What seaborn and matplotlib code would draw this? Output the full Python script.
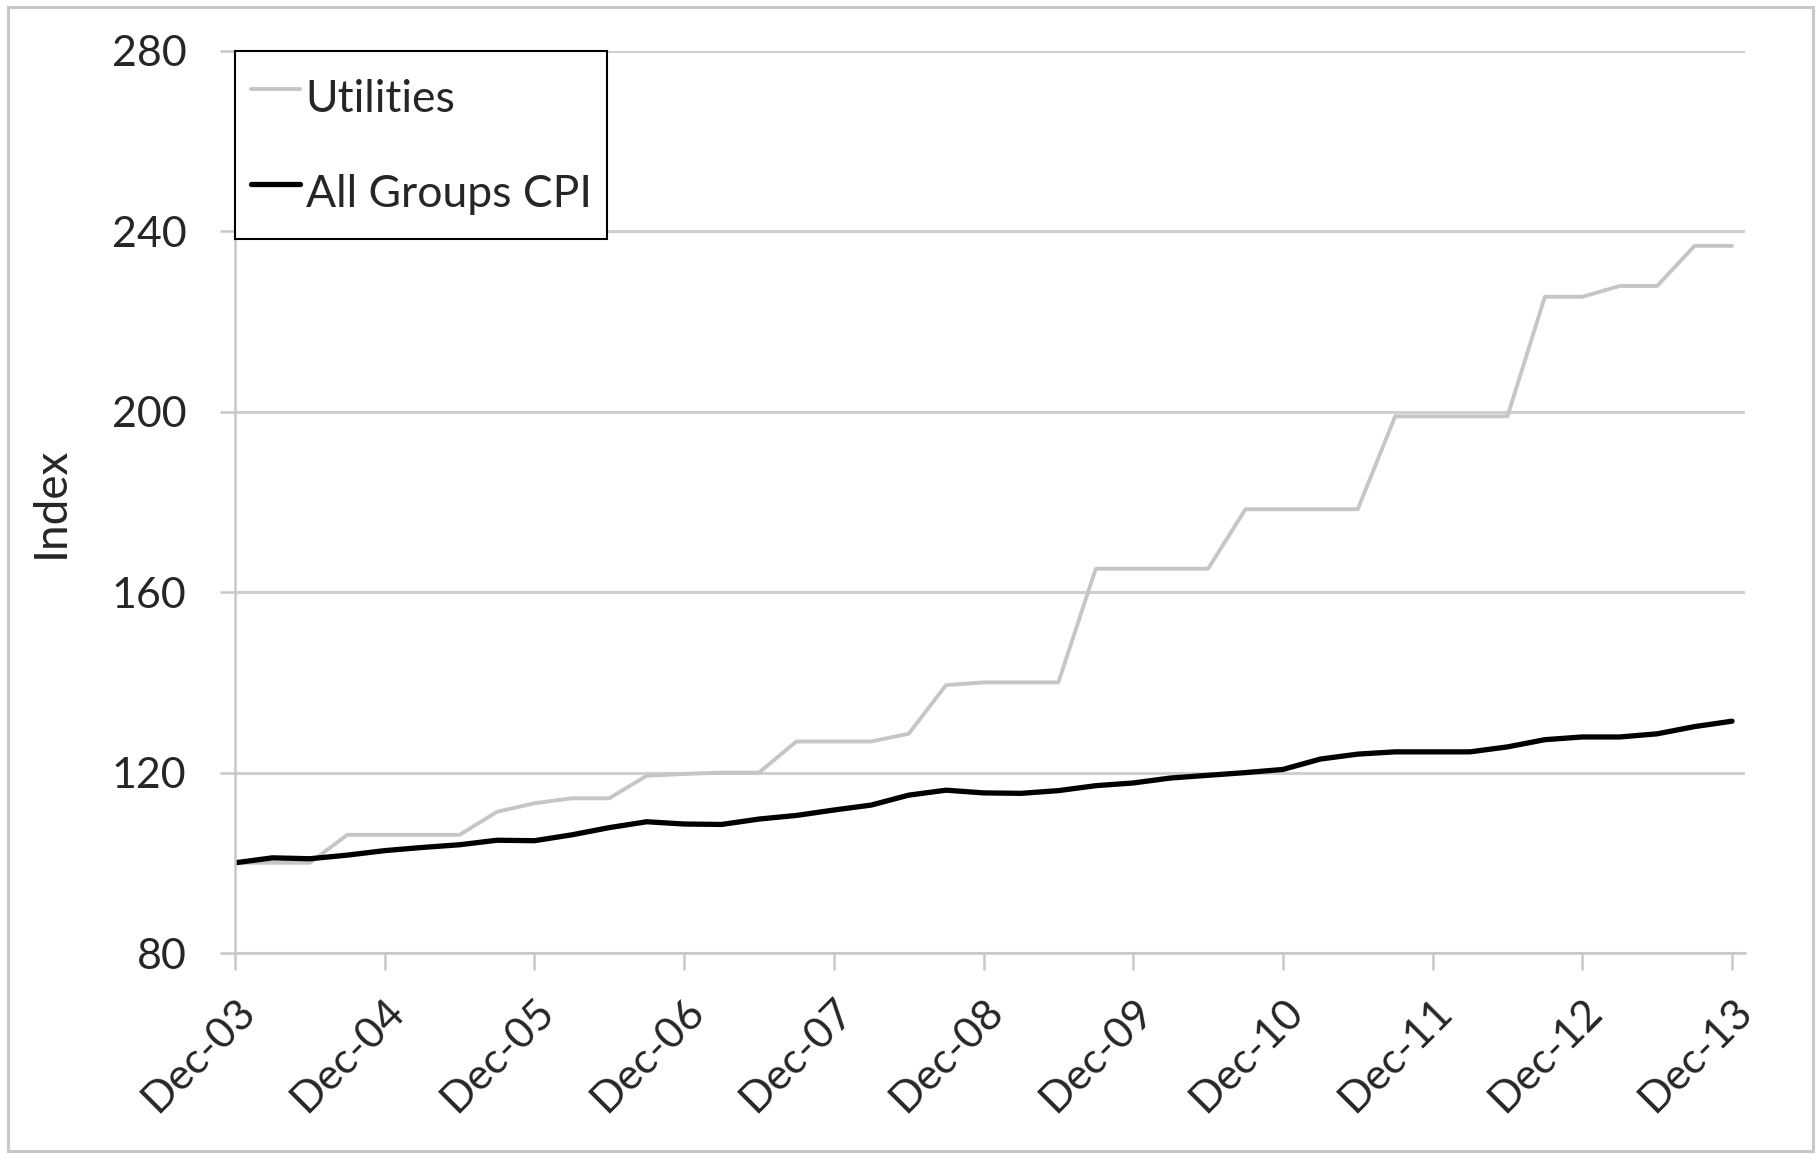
import numpy as np
import pandas as pd
import seaborn as sns
import matplotlib.pyplot as plt
from matplotlib.patches import Rectangle

# quarterly index values, Dec-03 = 100
quarters = list(range(41))
utilities = [100, 100, 100, 106.2, 106.2, 106.2, 106.2, 111.3, 113.2, 114.3,
             114.3, 119.3, 119.7, 120.0, 120.0, 126.9, 126.9, 126.9, 128.6, 139.4,
             140.0, 140.0, 140.0, 165.2, 165.2, 165.2, 165.2, 178.4, 178.4, 178.4,
             178.4, 199.0, 199.0, 199.0, 199.0, 225.5, 225.5, 227.9, 227.9, 236.8,
             236.8]
all_groups_cpi = [100, 101.1, 100.9, 101.7, 102.7, 103.4, 104.0, 105.0, 104.9, 106.2,
                  107.8, 109.1, 108.6, 108.5, 109.7, 110.5, 111.7, 112.8, 115.0, 116.1,
                  115.5, 115.4, 116.0, 117.1, 117.7, 118.8, 119.4, 120.0, 120.7, 123.0,
                  124.1, 124.6, 124.6, 124.6, 125.7, 127.3, 127.9, 127.9, 128.6, 130.2,
                  131.4]
year_labels = ['Dec-03', 'Dec-04', 'Dec-05', 'Dec-06', 'Dec-07', 'Dec-08',
               'Dec-09', 'Dec-10', 'Dec-11', 'Dec-12', 'Dec-13']
y_ticks = [80, 120, 160, 200, 240, 280]

df = pd.DataFrame({'Quarter': quarters, 'Utilities': utilities,
                   'All Groups CPI': all_groups_cpi})

sns.set_theme(style='white')
plt.rcParams['font.family'] = ['Lato', 'DejaVu Sans']

fig = plt.figure(figsize=(18.2, 11.54), dpi=100)
ax = fig.add_axes([235 / 1820, 1 - 953 / 1154, 1510 / 1820, 902 / 1154])

sns.lineplot(data=df, x='Quarter', y='Utilities', ax=ax, color='#c6c6c6',
             linewidth=2.8, label='Utilities')
sns.lineplot(data=df, x='Quarter', y='All Groups CPI', ax=ax, color='black',
             linewidth=3.8, label='All Groups CPI')

ax.set_ylim(80, 280)
ax.set_xlim(0, 40 * 1510 / 1497)
ax.set_yticks(y_ticks)
ax.set_yticklabels([str(v) for v in y_ticks])
ax.set_xticks(quarters[::4])
ax.set_xticklabels(year_labels, rotation=45, ha='right', va='top',
                   rotation_mode='anchor')

ax.grid(axis='y', color='#cfcfcf', linewidth=2.2)
ax.set_axisbelow(True)
for side in ['top', 'right']:
    ax.spines[side].set_visible(False)
for side in ['left', 'bottom']:
    ax.spines[side].set_color('#c8c8c8')
    ax.spines[side].set_linewidth(1.8)

ax.tick_params(axis='y', direction='out', length=11, width=1.8, color='#c8c8c8',
               labelsize=31, pad=24, left=True)
ax.tick_params(axis='x', direction='out', length=12, width=1.8, color='#c8c8c8',
               labelsize=31, pad=16, bottom=True)

ax.set_xlabel('')
ax.set_ylabel('Index', fontsize=33)
ax.yaxis.set_label_coords(-0.108, 0.5)

leg = ax.legend(loc='upper left', bbox_to_anchor=(0, 1), borderaxespad=0,
                fancybox=False, edgecolor='black', framealpha=1, fontsize=32,
                handlelength=1.12, handleheight=1.75, handletextpad=0.12,
                labelspacing=0.76, borderpad=0.35)
leg.get_frame().set_linewidth(1.5)

# thin grey frame round the whole chart
fig.patches.append(Rectangle((8 / 1820, 3 / 1154), 1805 / 1820, 1144 / 1154,
                             transform=fig.transFigure, fill=False,
                             edgecolor='#c8c8c8', linewidth=2.2))

fig.savefig('out.png', dpi=100)
